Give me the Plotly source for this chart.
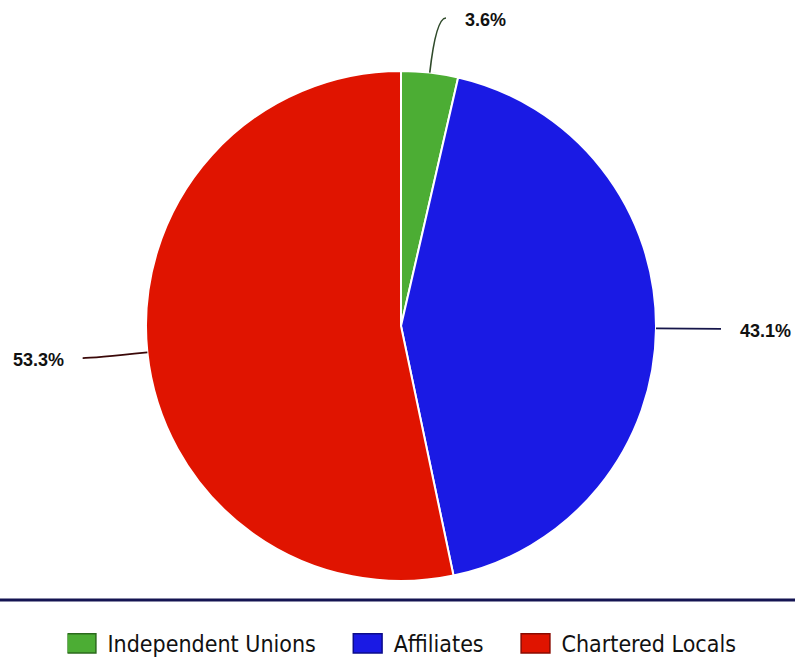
import math
import plotly.graph_objects as go

# ---- data ----
categories = ["Independent Unions", "Affiliates", "Chartered Locals"]
shares = [3.6, 43.1, 53.3]
colors = ["#4cad34", "#1a1ae4", "#e01400"]
edge_colors = ["#2b6a1c", "#0c0c8a", "#8a0a00"]
connector_colors = ["#2f4a2a", "#15154a", "#3a0808"]

# ---- layout constants (pixels) ----
W, H = 795, 657
cx, cy, R = 401, 326, 255
elbow_extra = 55
tail = 10
gap = 17

fig = go.Figure()

fig.add_trace(go.Pie(
    labels=categories,
    values=shares,
    sort=False,
    direction="clockwise",
    rotation=0,
    textinfo="none",
    hoverinfo="label+percent",
    marker=dict(colors=colors, line=dict(color="white", width=2)),
    domain=dict(x=[(cx - R) / W, (cx + R) / W], y=[1 - (cy + R) / H, 1 - (cy - R) / H]),
    showlegend=False,
))

# legend entries (trailing no-break spaces widen the gap between items)
n = len(categories)
for i, (name, c, ec) in enumerate(zip(categories, colors, edge_colors)):
    pad = "\u00a0" * 5 if i < n - 1 else ""
    fig.add_trace(go.Scatter(
        x=[None], y=[None], mode="markers", name=name + pad,
        marker=dict(symbol="square", size=16, color=c, line=dict(color=ec, width=1.5)),
    ))

def to_paper(px, py):
    return px / W, 1 - py / H

shapes = []
annotations = []
total = sum(shares)
cum = 0.0
for v, lc in zip(shares, connector_colors):
    theta = 2 * math.pi * (cum + v / 2) / total
    cum += v
    s, c = math.sin(theta), math.cos(theta)
    p1 = (cx + R * s, cy - R * c)
    p2 = (cx + (R + elbow_extra) * s, cy - (R + elbow_extra) * c)
    side = 1 if s >= 0 else -1
    p3 = (p2[0] + side * tail, p2[1])
    a = to_paper(*p1)
    b = to_paper(*p2)
    d = to_paper(*p3)
    shapes.append(dict(
        type="path", xref="paper", yref="paper",
        path=f"M {a[0]},{a[1]} Q {b[0]},{b[1]} {d[0]},{d[1]}",
        line=dict(color=lc, width=1.6),
    ))
    tx, ty = to_paper(p3[0] + side * gap, p3[1] + 2)
    annotations.append(dict(
        x=tx, y=ty, xref="paper", yref="paper",
        text=f"<b>{v}%</b>", showarrow=False,
        xanchor="left" if side > 0 else "right", yanchor="middle",
        font=dict(family="Liberation Sans, Arial, sans-serif", size=18, color="#111111"),
    ))

# separator line above legend
shapes.append(dict(
    type="line", xref="paper", yref="paper",
    x0=0, x1=1, y0=1 - 600 / H, y1=1 - 600 / H,
    line=dict(color="#141452", width=3),
))

fig.update_layout(
    width=W, height=H,
    margin=dict(l=0, r=0, t=0, b=0),
    paper_bgcolor="white",
    plot_bgcolor="white",
    xaxis=dict(visible=False),
    yaxis=dict(visible=False),
    shapes=shapes,
    annotations=annotations,
    legend=dict(
        orientation="h", x=0.5, xanchor="center", y=0, yanchor="bottom",
        font=dict(family="DejaVu Sans Condensed, DejaVu Sans, sans-serif", size=23, color="#111111"),
        itemclick=False, itemdoubleclick=False,
        bgcolor="rgba(0,0,0,0)",
    ),
)

post = (
    "document.documentElement.style.margin='0';"
    "document.documentElement.style.padding='0';"
    "document.documentElement.style.overflow='hidden';"
    "document.body.style.margin='0';"
    "document.body.style.padding='0';"
    "document.body.style.overflow='hidden';"
    "var gd=document.getElementById('{plot_id}');"
    "gd.style.position='fixed';gd.style.left='0px';gd.style.top='0px';"
    "var lg=gd.querySelector('g.legend');"
    "if(lg){lg.setAttribute('transform',(lg.getAttribute('transform')||'')+' translate(7,8)');}"
    "gd.querySelectorAll('g.legend path.scatterpts').forEach(function(p){"
    "p.setAttribute('transform',(p.getAttribute('transform')||'')+' translate(-6,0) scale(1.8,1.2)');"
    "p.style.vectorEffect='non-scaling-stroke';});"
)

fig.write_html(
    "out.html",
    config={"displayModeBar": False},
    post_script=post,
)
